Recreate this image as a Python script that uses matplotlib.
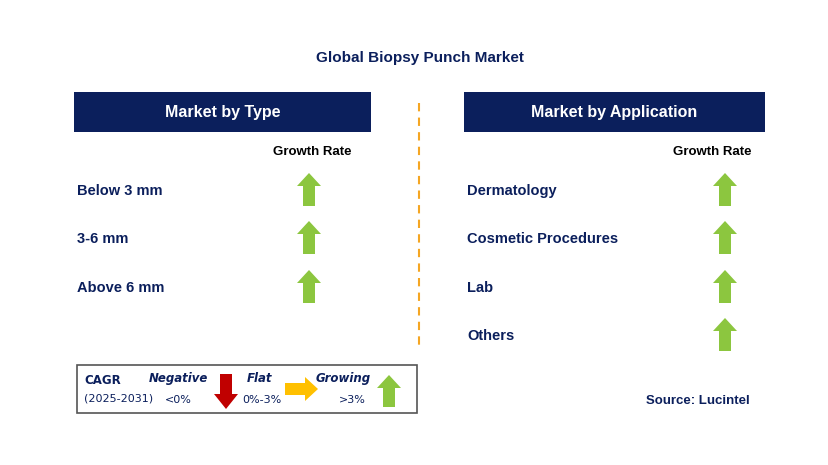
import matplotlib
matplotlib.use("Agg")
import matplotlib.pyplot as plt
from matplotlib.patches import Rectangle, Polygon

title = "Global Biopsy Punch Market"
left_header = "Market by Type"
right_header = "Market by Application"
left_items = ["Below 3 mm", "3-6 mm", "Above 6 mm"]
right_items = ["Dermatology", "Cosmetic Procedures", "Lab", "Others"]
left_trend = ["up", "up", "up"]
right_trend = ["up", "up", "up", "up"]

NAVY = "#0b1f5c"
GREEN = "#8cc63f"
RED = "#c00000"
ORANGE = "#ffc000"

fig = plt.figure(figsize=(8.29, 4.65), dpi=100)
ax = fig.add_axes([0, 0, 1, 1])
ax.set_xlim(0, 829); ax.set_ylim(465, 0); ax.axis("off")

def arrow(cx, ytop, ybot, direction, color, w=22, sw=11, hl=13):
    if direction == "up":
        pts = [(cx, ytop), (cx + w/2, ytop + hl), (cx + sw/2, ytop + hl), (cx + sw/2, ybot),
               (cx - sw/2, ybot), (cx - sw/2, ytop + hl), (cx - w/2, ytop + hl)]
    else:
        pts = [(cx, ybot), (cx + w/2, ybot - hl), (cx + sw/2, ybot - hl), (cx + sw/2, ytop),
               (cx - sw/2, ytop), (cx - sw/2, ybot - hl), (cx - w/2, ybot - hl)]
    ax.add_patch(Polygon(pts, closed=True, color=color, lw=0))

def right_arrow(xl, xr, cy, color, h=24, sh=12, hl=13):
    pts = [(xr, cy), (xr - hl, cy - h/2), (xr - hl, cy - sh/2), (xl, cy - sh/2),
           (xl, cy + sh/2), (xr - hl, cy + sh/2), (xr - hl, cy + h/2)]
    ax.add_patch(Polygon(pts, closed=True, color=color, lw=0))

ax.text(420, 58, title, ha="center", va="center", fontsize=11, fontweight="bold", color=NAVY, family="Liberation Sans")

for x0, x1, hdr in [(74, 371, left_header), (464, 765, right_header)]:
    ax.add_patch(Rectangle((x0, 92), x1 - x0, 40, color=NAVY, lw=0))
    ax.text((x0 + x1) / 2, 112, hdr, ha="center", va="center", fontsize=11.5, fontweight="bold", color="white", family="Liberation Sans")

ax.text(312, 152, "Growth Rate", ha="center", va="center", fontsize=9.5, fontweight="bold", color="black", family="Liberation Sans")
ax.text(712, 152, "Growth Rate", ha="center", va="center", fontsize=9.5, fontweight="bold", color="black", family="Liberation Sans")

ys = [190, 238, 287, 335]
for i, (lab, t) in enumerate(zip(left_items, left_trend)):
    ax.text(77, ys[i] + 1, lab, ha="left", va="center", fontsize=10.5, fontweight="bold", color=NAVY, family="Liberation Sans")
    arrow(309, ys[i] - 17, ys[i] + 16, t, GREEN, w=24, sw=12)
for i, (lab, t) in enumerate(zip(right_items, right_trend)):
    ax.text(467, ys[i] + 1, lab, ha="left", va="center", fontsize=10.5, fontweight="bold", color=NAVY, family="Liberation Sans")
    arrow(725, ys[i] - 17, ys[i] + 16, t, GREEN, w=24, sw=12)

ax.plot([419, 419], [103, 350], ls=(0, (4, 3)), color="#f5a623", lw=1.5)

# legend box
ax.add_patch(Rectangle((77, 365), 340, 48, fill=False, ec="#555555", lw=1.2))
ax.text(84, 380, "CAGR", fontsize=8.5, fontweight="bold", color=NAVY, va="center", family="DejaVu Sans")
ax.text(84, 398, "(2025-2031)", fontsize=8, color=NAVY, va="center", family="DejaVu Sans")
ax.text(178, 378, "Negative", fontsize=8.5, fontweight="bold", style="italic", color=NAVY, ha="center", va="center", family="DejaVu Sans")
ax.text(178, 400, "<0%", fontsize=8, color=NAVY, ha="center", va="center", family="DejaVu Sans")
arrow(226, 374, 409, "down", RED, w=24, sw=12, hl=15)
ax.text(260, 378, "Flat", fontsize=8.5, fontweight="bold", style="italic", color=NAVY, ha="center", va="center", family="DejaVu Sans")
ax.text(262, 400, "0%-3%", fontsize=8, color=NAVY, ha="center", va="center", family="DejaVu Sans")
right_arrow(285, 318, 389, ORANGE)
ax.text(343, 378, "Growing", fontsize=8.5, fontweight="bold", style="italic", color=NAVY, ha="center", va="center", family="DejaVu Sans")
ax.text(352, 400, ">3%", fontsize=8, color=NAVY, ha="center", va="center", family="DejaVu Sans")
arrow(389, 375, 407, "up", GREEN, w=24, sw=12)

ax.text(750, 401, "Source: Lucintel", ha="right", va="center", fontsize=9.5, fontweight="bold", color=NAVY, family="Liberation Sans")

fig.savefig("out.png", dpi=100)
